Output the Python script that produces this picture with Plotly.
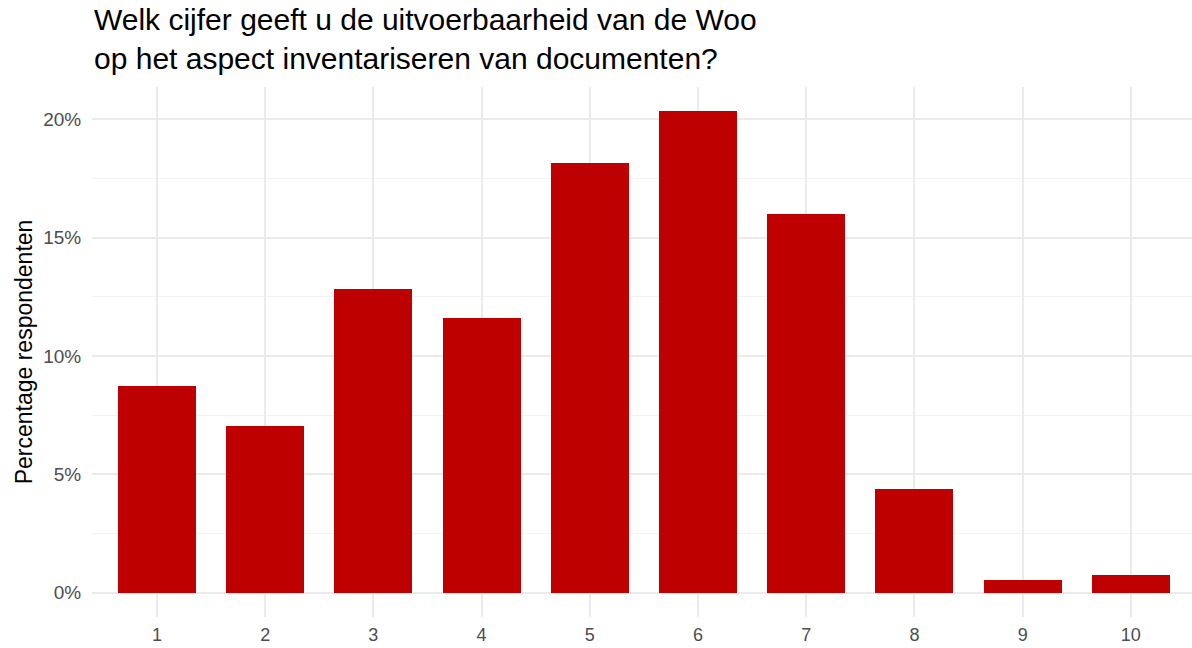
import plotly.graph_objects as go

categories = [1, 2, 3, 4, 5, 6, 7, 8, 9, 10]
percentages = [8.73, 7.05, 12.83, 11.6, 18.14, 20.34, 15.99, 4.39, 0.55, 0.76]
y_ticks = [0, 5, 10, 15, 20]
y_tick_labels = ["0%", "5%", "10%", "15%", "20%"]
title_text = "Welk cijfer geeft u de uitvoerbaarheid van de Woo<br>op het aspect inventariseren van documenten?"

fig = go.Figure()
fig.add_trace(go.Bar(
    x=categories, y=percentages, width=0.72,
    marker=dict(color="#BF0000", line=dict(width=0)),
))

fig.update_layout(
    width=1192, height=648,
    margin=dict(l=92, r=0, t=87, b=31),
    plot_bgcolor="white", paper_bgcolor="white",
    font=dict(family="Liberation Sans, Arial, sans-serif"),
    showlegend=False,
    bargap=0,
    xaxis=dict(
        range=[0.4, 10.565], automargin=False,
        tickmode="array", tickvals=categories, ticktext=[str(c) for c in categories],
        showgrid=True, gridcolor="#ebebeb", gridwidth=1.5,
        zeroline=False, showline=False,
        ticks="outside", ticklen=1, tickcolor="rgba(0,0,0,0)",
        tickfont=dict(size=18, color="#4d4d4d"),
    ),
    yaxis=dict(
        range=[-1.02, 21.36], automargin=False,
        tickmode="array", tickvals=y_ticks, ticktext=y_tick_labels,
        showgrid=True, gridcolor="#ebebeb", gridwidth=1.5,
        minor=dict(tickvals=[2.5, 7.5, 12.5, 17.5], showgrid=True, gridcolor="#f2f2f2", gridwidth=1),
        zeroline=False, showline=False,
        ticks="outside", ticklen=6, tickcolor="rgba(0,0,0,0)",
        tickfont=dict(size=19, color="#4d4d4d"),
        title=dict(text="Percentage respondenten", font=dict(size=23, color="#000000"), standoff=4),
    ),
    annotations=[dict(
        text=title_text, xref="paper", yref="paper",
        x=0, y=1, xanchor="left", yanchor="bottom", yshift=10,
        align="left", showarrow=False,
        font=dict(size=30, color="#000000"),
    )],
)

fig.write_html("out.html", config={"displayModeBar": False},
               post_script="document.body.style.margin='0';")
